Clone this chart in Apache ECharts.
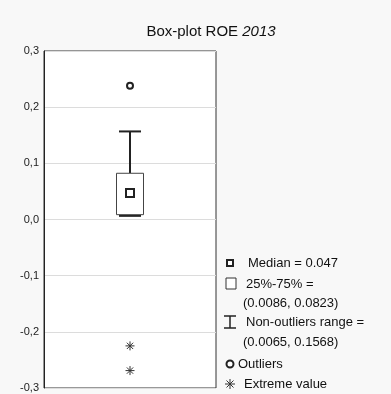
<!DOCTYPE html>
<html>
<head>
<meta charset="utf-8">
<script src="https://cdn.jsdelivr.net/npm/echarts@6/dist/echarts.min.js"></script>
<style>
  html, body { margin: 0; padding: 0; background: #f8f8f8; }
  #chart { width: 391px; height: 394px; }
</style>
</head>
<body>
<div id="chart"></div>
<script>
var chartDom = document.getElementById('chart');
var myChart = echarts.init(chartDom);

// dados do box-plot
var categories = ['ROE 2013'];
var boxStats = [[0, 0.0065, 0.0086, 0.0823, 0.1568]]; // idx, min, q1, q3, max
var medianPts = [[0, 0.047]];
var outlierPts = [[0, 0.238]];
var extremePts = [[0, -0.225], [0, -0.269]];
var yTicks = { min: -0.3, max: 0.3, step: 0.1 };

var font = 'Liberation Sans, Arial, sans-serif';
var asterisk = 'path://M0,5L10,5M5,0L5,10M1.5,1.5L8.5,8.5M8.5,1.5L1.5,8.5';

function renderBox(params, api) {
  var x = api.value(0);
  var pMin = api.coord([x, api.value(1)]);
  var pQ1 = api.coord([x, api.value(2)]);
  var pQ3 = api.coord([x, api.value(3)]);
  var pMax = api.coord([x, api.value(4)]);
  var cx = pMin[0];
  var bw = 27, cw = 22;
  var line = { stroke: '#222', lineWidth: 2 };
  return {
    type: 'group',
    children: [
      { type: 'line', shape: { x1: cx, y1: pQ3[1], x2: cx, y2: pMax[1] }, style: line },
      { type: 'line', shape: { x1: cx - cw / 2, y1: pMax[1], x2: cx + cw / 2, y2: pMax[1] }, style: line },
      { type: 'line', shape: { x1: cx, y1: pQ1[1], x2: cx, y2: pMin[1] }, style: line },
      { type: 'line', shape: { x1: cx - cw / 2, y1: pMin[1], x2: cx + cw / 2, y2: pMin[1] }, style: line },
      { type: 'rect', shape: { x: cx - bw / 2, y: pQ3[1], width: bw, height: pQ1[1] - pQ3[1] },
        style: { fill: '#fff', stroke: '#444', lineWidth: 1 } }
    ]
  };
}

var lx = 230;
function ltext(x, y, s) {
  return { type: 'text', x: x, y: y,
    style: { text: s, fill: '#111', font: '13px ' + font, verticalAlign: 'middle' } };
}

var option = {
  backgroundColor: '#f8f8f8',
  animation: false,
  title: {
    text: '{n|Box-plot ROE }{i|2013}',
    left: 206,
    textAlign: 'center',
    top: 19,
    textStyle: {
      rich: {
        n: { fontFamily: font, fontSize: 15, color: '#111', fontWeight: 'normal' },
        i: { fontFamily: font, fontSize: 15, color: '#111', fontWeight: 'normal', fontStyle: 'italic' }
      }
    }
  },
  grid: {
    left: 44, right: 175, top: 51, bottom: 6,
    show: true, backgroundColor: '#fff', borderColor: '#333', borderWidth: 1
  },
  xAxis: {
    type: 'category',
    data: categories,
    axisLine: { show: false },
    axisTick: { show: false },
    axisLabel: { show: false },
    splitLine: { show: false }
  },
  yAxis: {
    type: 'value',
    min: yTicks.min,
    max: yTicks.max,
    interval: yTicks.step,
    axisLine: { show: true, lineStyle: { color: '#222', width: 1 } },
    axisTick: { show: false },
    axisLabel: {
      color: '#222', fontFamily: font, fontSize: 11, margin: 5,
      formatter: function (v) { return v.toFixed(1).replace('.', ','); }
    },
    splitLine: { lineStyle: { color: '#dcdcdc', width: 1 } }
  },
  series: [
    {
      type: 'custom',
      renderItem: renderBox,
      data: boxStats,
      z: 2
    },
    {
      type: 'scatter', data: medianPts, symbol: 'rect', symbolSize: 8,
      itemStyle: { color: '#fff', borderColor: '#222', borderWidth: 2, opacity: 1 }, z: 3
    },
    {
      type: 'scatter', data: outlierPts, symbol: 'circle', symbolSize: 6,
      itemStyle: { color: '#fff', borderColor: '#222', borderWidth: 2, opacity: 1 }, z: 3
    },
    {
      type: 'scatter', data: extremePts, symbol: asterisk, symbolSize: 9,
      itemStyle: { color: 'none', borderColor: '#333', borderWidth: 1, opacity: 1 }, z: 3
    }
  ],
  graphic: [
    { type: 'rect', x: lx - 3, y: 260, shape: { width: 6, height: 6 },
      style: { fill: '#fff', stroke: '#222', lineWidth: 2 } },
    ltext(248, 263, 'Median = 0.047'),
    { type: 'rect', x: lx - 4, y: 278, shape: { width: 10, height: 11 },
      style: { fill: '#fff', stroke: '#333', lineWidth: 1 } },
    ltext(246, 284, '25%-75% ='),
    ltext(243, 303, '(0.0086, 0.0823)'),
    { type: 'group', x: lx - 6, y: 316, children: [
      { type: 'line', shape: { x1: 0, y1: 0, x2: 12, y2: 0 }, style: { stroke: '#222', lineWidth: 1.5 } },
      { type: 'line', shape: { x1: 6, y1: 0, x2: 6, y2: 12 }, style: { stroke: '#222', lineWidth: 1.5 } },
      { type: 'line', shape: { x1: 0, y1: 12, x2: 12, y2: 12 }, style: { stroke: '#222', lineWidth: 1.5 } }
    ] },
    ltext(246, 322, 'Non-outliers range ='),
    ltext(243, 342, '(0.0065, 0.1568)'),
    { type: 'circle', x: lx, y: 364, shape: { cx: 0, cy: 0, r: 3.5 },
      style: { fill: '#fff', stroke: '#222', lineWidth: 2 } },
    ltext(238, 364, 'Outliers'),
    { type: 'group', x: lx - 5, y: 379, children: [
      { type: 'line', shape: { x1: 0, y1: 5, x2: 10, y2: 5 }, style: { stroke: '#333', lineWidth: 1 } },
      { type: 'line', shape: { x1: 5, y1: 0, x2: 5, y2: 10 }, style: { stroke: '#333', lineWidth: 1 } },
      { type: 'line', shape: { x1: 1.5, y1: 1.5, x2: 8.5, y2: 8.5 }, style: { stroke: '#333', lineWidth: 1 } },
      { type: 'line', shape: { x1: 8.5, y1: 1.5, x2: 1.5, y2: 8.5 }, style: { stroke: '#333', lineWidth: 1 } }
    ] },
    ltext(244, 384, 'Extreme value')
  ]
};

myChart.setOption(option);
</script>
</body>
</html>
